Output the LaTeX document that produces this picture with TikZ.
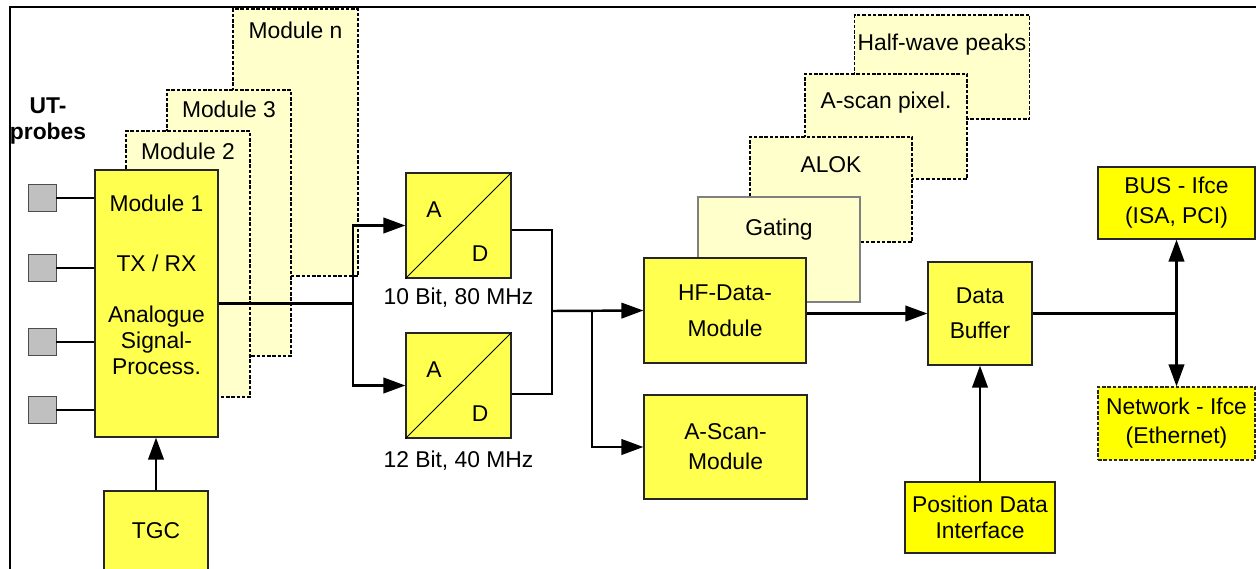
\documentclass[tikz,border=0pt]{standalone}
\usepackage{fontspec}
\setmainfont{Liberation Sans}
\usetikzlibrary{arrows.meta,calc}
\definecolor{boxyel}{RGB}{255,255,80}
\definecolor{fullyel}{RGB}{255,255,0}
\definecolor{paleyel}{RGB}{255,255,204}
\definecolor{probegray}{RGB}{192,192,192}

\begin{document}
\begin{tikzpicture}[x=0.02cm, y=-0.02cm,
  font=\fontsize{13pt}{15pt}\selectfont,
  blk/.style={draw=black!85, line width=0.7pt, fill=boxyel, inner sep=0pt, align=center},
  blk2/.style={blk, fill=fullyel},
  back/.style={draw, line width=0.8pt, dash pattern=on 2pt off 1pt, fill=paleyel, inner sep=0pt},
  sz/.style 2 args={minimum width=#1*0.02cm, minimum height=#2*0.02cm},
  ttl/.style={anchor=center, yshift=-#1},
  wire/.style={line width=1.4pt},
  arr/.style={wire, -{Triangle[length=0.44cm,width=0.31cm]}}
]

\useasboundingbox (0,0) rectangle (1256,568);
\clip (0,0) rectangle (1256,568);

% frame
\draw[line width=1.6pt] (10,620) -- (10,7) -- (1300,7);

% analogue modules, back to front
\node[back, sz={125}{267}, label={[ttl=0.44cm]north:Module n}] (modn) at (295.5,142.5) {};
\node[back, sz={124}{266}, label={[ttl=0.40cm]north:Module 3}] (mod3) at (229,223) {};
\node[back, sz={124}{266}, label={[ttl=0.42cm]north:Module 2}] (mod2) at (188,264) {};
\node[blk, sz={123}{267},
  label={[anchor=center, yshift=0.37cm, align=center]center:{Module 1\\[0.67cm]TX / RX\\[0.49cm]Analogue\\Signal-\\Process.}}] (mod1) at (156.5,303.5) {};

% probes
\node[font=\fontsize{13pt}{15pt}\selectfont\bfseries, align=center] (utp) at (48,121) {UT-\\probes};
\foreach \i/\y in {1/198,2/268,3/342,4/410}{
  \node[draw=black!70, fill=probegray, sz={28}{27}, inner sep=0pt] (p\i) at (42,\y) {};
  \draw[wire] (p\i.east) -- (p\i.east -| mod1.west);
}

\node[blk, sz={104}{79}] (tgc) at (156,530.5) {TGC};

% converters
\foreach \n/\y/\d/\t in {ad1/225.5/0.06cm/{10 Bit, 80 MHz}, ad2/385.5/0.12cm/{12 Bit, 40 MHz}}{
  \node[blk, sz={105}{105}, label={[label distance=\d]below:\t}] (\n) at (458.5,\y) {};
  \draw[line width=0.5pt] (\n.south west) -- (\n.north east);
  \node (\n-a) at ([xshift=-0.49cm, yshift=0.31cm]\n.center) {A};
  \node (\n-d) at ([xshift=0.43cm, yshift=-0.57cm]\n.center) {D};
}

% evaluation stack, back to front
\node[back, sz={175}{104}, label={[ttl=0.60cm]north:Half-wave peaks}] (half) at (942,67) {};
\node[back, sz={162}{105}, label={[ttl=0.58cm]north:A-scan pixel.}] (apix) at (886,126.5) {};
\node[back, sz={162}{105}, label={[ttl=0.56cm]north:ALOK}] (alok) at (831,189.5) {};
\node[draw=black!50, line width=0.7pt, fill=paleyel, sz={162}{105},
  label={[ttl=0.66cm]north:Gating}] (gate) at (779,249.5) {};

\node[blk, sz={162}{105}] (hf) at (725,310.5) {HF-Data-\\[0.19cm]Module};
\node[blk, sz={163}{104}] (ascan) at (725.5,447) {A-Scan-\\[0.07cm]Module};
\node[blk, sz={104}{103}] (buf) at (980,313.5) {Data\\[0.17cm]Buffer};
\node[blk2, sz={150}{71}] (pos) at (980,517.5) {Position Data\\Interface};
\node[blk2, sz={157}{72}] (bus) at (1176.5,203) {BUS - Ifce\\[0.07cm](ISA, PCI)};
\node[blk2, dash pattern=on 2pt off 1pt, sz={157}{73}] (net) at (1176.5,423.5) {Network - Ifce\\[0.05cm](Ethernet)};

% connections
\draw[arr] (tgc.north) -- (tgc.north |- mod1.south);
\coordinate (j1) at (353,303.5);
\draw[wire] (mod1.east) -- (j1);
\draw[arr] (j1) |- (ad1.west);
\draw[arr] (j1) |- (ad2.west);

\coordinate (j2) at (552,311);
\coordinate (j3) at (592,311);
\draw[wire] ([yshift=-0.09cm]ad1.east) -| (j2) |- ([yshift=-0.17cm]ad2.east);
\draw[arr] (j2) -- (hf.west);
\draw[arr] (j3) |- (ascan.west);

\draw[arr] (hf.east |- buf) -- (buf.west);
\draw[arr] (pos.north) -- (buf.south);
\coordinate (j4) at (bus |- buf);
\draw[wire] (buf.east) -- (j4);
\draw[arr] (j4) -- (bus.south);
\draw[arr] (j4) -- (net.north);

\end{tikzpicture}
\end{document}
